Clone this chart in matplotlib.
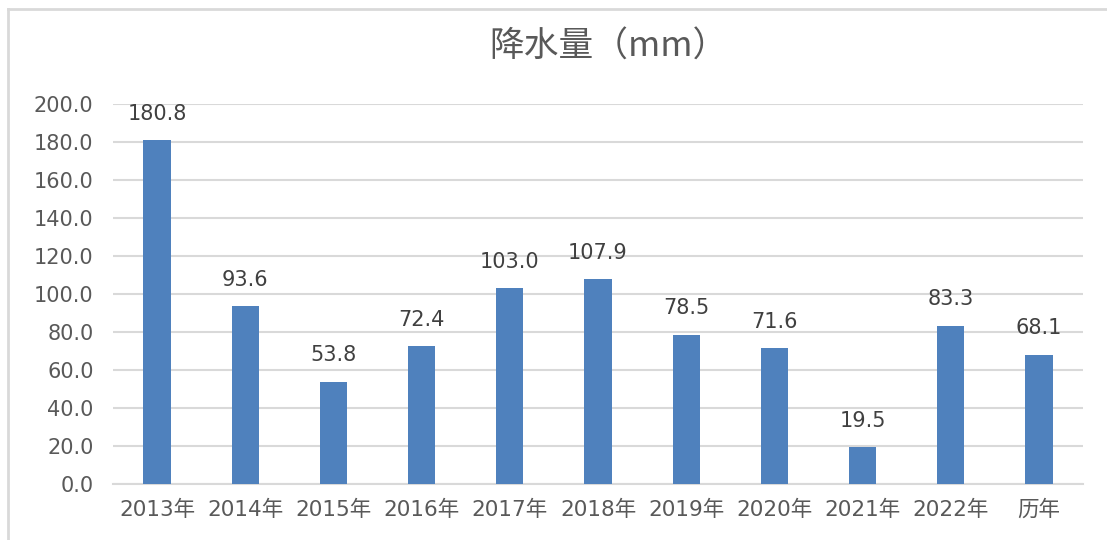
import matplotlib
matplotlib.use("Agg")
import matplotlib.pyplot as plt
from matplotlib.lines import Line2D

plt.rcParams['font.family'] = ['DejaVu Sans', 'Noto Sans CJK SC']

categories = ["2013年", "2014年", "2015年", "2016年", "2017年", "2018年",
              "2019年", "2020年", "2021年", "2022年", "历年"]
values = [180.8, 93.6, 53.8, 72.4, 103.0, 107.9, 78.5, 71.6, 19.5, 83.3, 68.1]
yticks = [0, 20, 40, 60, 80, 100, 120, 140, 160, 180, 200]
title = "降水量（mm）"

fig = plt.figure(figsize=(11.07, 5.40), dpi=100)
ax = fig.add_axes([113/1107, 1 - 484/540, (1083-113)/1107, (484-104)/540])

x = range(len(categories))
bars = ax.bar(x, values, width=0.31, color="#4f81bd", zorder=3)
ax.set_xlim(-0.5, len(categories) - 0.5)
ax.set_ylim(0, 200)
ax.set_yticks(yticks)
ax.set_yticklabels([f"{v:.1f}" for v in yticks])
ax.set_xticks(list(x))
ax.set_xticklabels(categories)

ax.grid(axis="y", color="#d9d9d9", linewidth=1.5, zorder=0)
for s in ["top", "right", "left"]:
    ax.spines[s].set_visible(False)
ax.spines["bottom"].set_color("#d9d9d9")
ax.spines["bottom"].set_linewidth(1.5)
ax.tick_params(axis="y", length=0, labelsize=15, colors="#595959", pad=14)
ax.tick_params(axis="x", length=0, labelsize=15.5, colors="#595959", pad=11)

for b, v in zip(bars, values):
    ax.annotate(f"{v:.1f}", (b.get_x() + b.get_width()/2, v),
                xytext=(0, 19), textcoords="offset points",
                ha="center", va="center", fontsize=15, color="#404040")

fig.text(608/1107, 1 - 47/540, title, ha="center", va="center",
         fontsize=25, color="#595959",
         family=['Noto Sans CJK SC', 'DejaVu Sans'])

# chart border (top and left visible)
fig.add_artist(Line2D([8/1107, 1], [1 - 9/540, 1 - 9/540], color="#d9d9d9", linewidth=2, transform=fig.transFigure))
fig.add_artist(Line2D([8/1107, 8/1107], [0, 1 - 9/540], color="#d9d9d9", linewidth=2, transform=fig.transFigure))

fig.savefig("out.png", dpi=100)
